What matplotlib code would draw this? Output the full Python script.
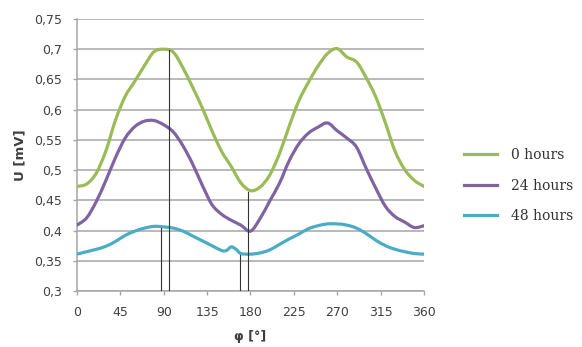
import matplotlib
matplotlib.use("Agg")
import matplotlib.pyplot as plt
from matplotlib.path import Path
from matplotlib.patches import PathPatch
from matplotlib.lines import Line2D
from matplotlib.ticker import FuncFormatter

phi = [0, 10, 20, 30, 40, 50, 60, 70, 80, 90, 100, 110, 120, 130, 140, 150, 160, 170, 180,
       190, 200, 210, 220, 230, 240, 250, 260, 270, 280, 290, 300, 310, 320, 330, 340, 350, 360]
u_0h = [0.473, 0.477, 0.495, 0.532, 0.583, 0.622, 0.647, 0.673, 0.696, 0.700, 0.695, 0.669, 0.637,
        0.603, 0.565, 0.531, 0.506, 0.479, 0.466, 0.472, 0.492, 0.527, 0.572, 0.614, 0.645, 0.672,
        0.693, 0.701, 0.687, 0.679, 0.653, 0.621, 0.578, 0.531, 0.501, 0.483, 0.473]
u_24h = [0.409, 0.421, 0.448, 0.483, 0.521, 0.553, 0.572, 0.581, 0.582, 0.575, 0.563, 0.540, 0.510,
         0.475, 0.443, 0.427, 0.417, 0.409, 0.399, 0.420, 0.449, 0.478, 0.515, 0.543, 0.561, 0.571,
         0.578, 0.565, 0.553, 0.538, 0.503, 0.470, 0.440, 0.423, 0.414, 0.405, 0.408]

phi_48 = [0, 10, 20, 30, 40, 50, 60, 70, 80, 90, 100, 110, 120, 130, 140, 150, 155, 160, 165, 170,
          180, 190, 200, 210, 220, 230, 240, 250, 260, 270, 280, 290, 300, 310, 320, 330, 340, 350, 360]
u_48h = [0.361, 0.365, 0.369, 0.374, 0.382, 0.392, 0.399, 0.404, 0.407, 0.406, 0.404, 0.399, 0.391,
         0.383, 0.375, 0.367, 0.367, 0.373, 0.369, 0.362, 0.361, 0.363, 0.368, 0.377, 0.386, 0.394,
         0.403, 0.408, 0.411, 0.411, 0.409, 0.404, 0.395, 0.384, 0.375, 0.369, 0.365, 0.362, 0.361]

series_labels = ["0 hours", "24 hours", "48 hours"]
series_colors = ["#9BBB59", "#8064A2", "#4BACC6"]

# vertical marker lines (phi, top value)
marker_phi = [87.1, 95.1, 169.4, 177.7]
marker_top = [0.404, 0.699, 0.359, 0.463]

x_ticks = [0, 45, 90, 135, 180, 225, 270, 315, 360]
y_ticks = [0.3, 0.35, 0.4, 0.45, 0.5, 0.55, 0.6, 0.65, 0.7, 0.75]


def smooth_path(xs, ys):
    """Catmull-Rom style smoothed path through the data points (like a spreadsheet smoothed line)."""
    pts = list(zip(xs, ys))
    n = len(pts)
    verts = [pts[0]]
    codes = [Path.MOVETO]
    for i in range(n - 1):
        p0 = pts[i - 1] if i > 0 else pts[i]
        p1 = pts[i]
        p2 = pts[i + 1]
        p3 = pts[i + 2] if i + 2 < n else pts[i + 1]
        c1 = (p1[0] + (p2[0] - p0[0]) / 6, p1[1] + (p2[1] - p0[1]) / 6)
        c2 = (p2[0] - (p3[0] - p1[0]) / 6, p2[1] - (p3[1] - p1[1]) / 6)
        verts += [c1, c2, p2]
        codes += [Path.CURVE4] * 3
    return Path(verts, codes)


fig = plt.figure(figsize=(5.82, 3.47), dpi=100)
ax = fig.add_axes([0.1323, 0.1614, 0.5962, 0.7838])

handles = []
for p, u, lab, c in zip([phi, phi, phi_48], [u_0h, u_24h, u_48h], series_labels, series_colors):
    patch = PathPatch(smooth_path(p, u), fill=False, edgecolor=c, lw=2.3,
                      capstyle="round", joinstyle="round", zorder=3)
    ax.add_patch(patch)
    handles.append(Line2D([], [], color=c, lw=2.3, label=lab))

for xp, top in zip(marker_phi, marker_top):
    ax.plot([xp, xp], [0.3, top], color="#333333", lw=0.8, zorder=4)

ax.set_xlim(0, 360)
ax.set_ylim(0.3, 0.75)
ax.set_xticks(x_ticks)
ax.set_yticks(y_ticks)
ax.yaxis.set_major_formatter(FuncFormatter(lambda v, pos: f"{v:g}".replace(".", ",")))
ax.grid(axis="y", color="#a6a6a6", lw=1.1, zorder=0)
for s in ["top", "right"]:
    ax.spines[s].set_visible(False)
for s in ["left", "bottom"]:
    ax.spines[s].set_color("#a6a6a6")
    ax.spines[s].set_linewidth(1.1)
ax.tick_params(axis="both", colors="#a6a6a6", labelcolor="#404040", labelsize=9, length=3, width=1)
ax.tick_params(axis="x", pad=8)
ax.tick_params(axis="y", pad=8)

ax.set_xlabel("φ [°]", fontsize=9, fontweight="bold", color="#404040", labelpad=8)
ax.set_ylabel("U [mV]", fontsize=9.5, fontweight="bold", color="#404040", labelpad=5)

leg = fig.legend(handles=handles, loc="center left", bbox_to_anchor=(0.775, 0.465), frameon=False,
                 prop={"family": "DejaVu Serif", "size": 10}, handlelength=2.4,
                 labelspacing=1.2, handletextpad=1.0)
for t in leg.get_texts():
    t.set_color("#333333")

fig.savefig("out.png", dpi=100)
